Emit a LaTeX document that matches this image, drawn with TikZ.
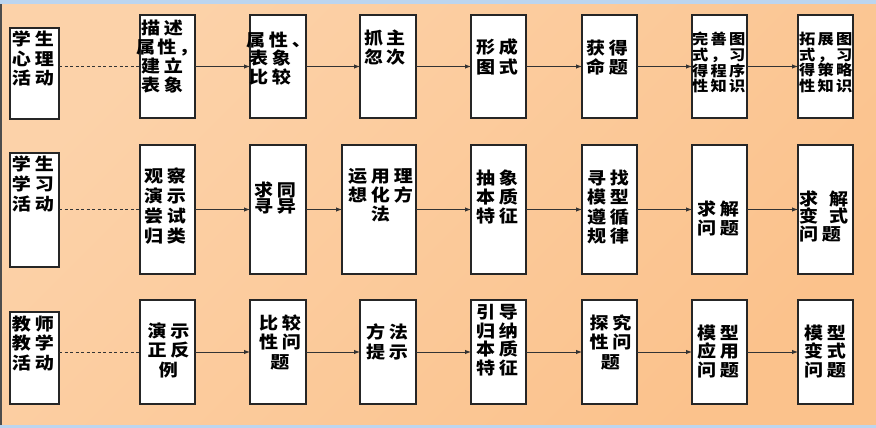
\documentclass[tikz,border=0pt]{standalone}
\usepackage{fontspec}
\newfontfamily\cjk{Noto Sans CJK SC}[FakeStretch=1.12,LetterSpace=23]
\newfontfamily\cjks{Noto Sans CJK SC}[FakeStretch=1.12,LetterSpace=16]
\usetikzlibrary{arrows.meta}
\definecolor{bgA}{HTML}{FCD2A9}
\definecolor{bgM}{HTML}{FDE9DA}
\definecolor{bgB}{HTML}{FBC28C}
\definecolor{frameblue}{HTML}{BCD5EF}
\newcommand\mkbox[5]{\node[box,minimum width={#4-#2},minimum height={#5-#3}] (#1) at ({(#2+#4)/2},{(#3+#5)/2}) {};}
\newcommand\mkbig[5][]{\node[txtb,#1] (#2) at (#3,{#4-7.5}) {#5};}
\newcommand\mksmall[5][]{\node[txts,#1] (#2) at (#3,{#4-6.8}) {#5};}
\begin{document}
\begin{tikzpicture}[x=1pt,y=-1pt,
  box/.style={draw=black!85,line width=1.2pt,fill=white,inner sep=0pt,outer sep=0pt},
  txtb/.style={inner sep=0pt,outer sep=0pt,align=left,anchor=north west,
    font=\cjk\bfseries\fontsize{17}{19.5}\selectfont,
    execute at begin node={\rule{0pt}{16pt}}},
  txts/.style={inner sep=0pt,outer sep=0pt,align=left,anchor=north west,
    font=\cjks\bfseries\fontsize{14.5}{15.7}\selectfont,
    execute at begin node={\rule{0pt}{13.8pt}}},
  lsk/.style={font=\cjk\bfseries\fontsize{17}{#1}\selectfont},
  ctr/.style={align=center,anchor=north},
  conn/.style={draw=black!80,line width=1pt,-{Latex[length=6pt,width=4.5pt]}},
  dconn/.style={draw=black!80,line width=0.9pt,dash pattern=on 3pt off 2.5pt}
]
\useasboundingbox (0,0) rectangle (876,428);
\shade[left color=bgA,middle color=bgM,right color=bgB,shading angle=45] (0,0) rectangle (876,428);
\fill[frameblue] (0,0) rectangle (876,4);
\fill[frameblue] (0,425) rectangle (876,428);
\fill[black!70] (0,4) rectangle (1.5,425);

% row 1
\mkbox{a1}{10}{28}{59}{119}
\mkbox{b1}{140}{15}{195}{118}
\mkbox{c1}{250}{15}{306}{118}
\mkbox{d1}{360}{15}{416}{118}
\mkbox{e1}{471}{15}{526}{118}
\mkbox{f1}{582}{15}{637}{118}
\mkbox{g1}{692}{15}{747}{118}
\mkbox{h1}{798}{15}{853}{118}
% row 2
\mkbox{a2}{10}{153}{59}{267}
\mkbox{b2}{140}{145}{195}{274}
\mkbox{c2}{250}{145}{306}{274}
\mkbox{d2}{342}{145}{416}{274}
\mkbox{e2}{471}{145}{526}{274}
\mkbox{f2}{582}{145}{637}{274}
\mkbox{g2}{692}{145}{747}{274}
\mkbox{h2}{798}{145}{853}{274}
% row 3
\mkbox{a3}{10}{312}{59}{404}
\mkbox{b3}{140}{300}{195}{404}
\mkbox{c3}{250}{300}{306}{404}
\mkbox{d3}{360}{300}{416}{404}
\mkbox{e3}{471}{300}{526}{404}
\mkbox{f3}{582}{300}{637}{404}
\mkbox{g3}{692}{300}{747}{404}
\mkbox{h3}{798}{300}{853}{404}

% texts row 1
\mkbig{ta1}{12}{38.5}{学生\\心理\\活动}
\mkbig[lsk=19.3]{tb1}{141}{27}{描述\\\hspace*{-5pt}{\addfontfeature{LetterSpace=14}属性，}\\建立\\表象}
\mkbig[lsk=18.5]{tc1}{249}{39}{\hspace*{-3pt}属性、\\表象\\比较}
\mkbig[lsk=19]{td1}{364}{37}{抓\hspace{3pt}主\\忽\hspace{3pt}次}
\mkbig[lsk=20]{te1}{476}{46}{形成\\图式}
\mkbig{tf1}{586}{47}{获得\\命题}
\mksmall{tg1}{692}{39}{完善图\\式，习\\得程序\\性知识}
\mksmall{th1}{799}{39}{拓展图\\式，习\\得策略\\性知识}
% texts row 2
\mkbig[lsk=20]{ta2}{12}{163.5}{学生\\学习\\活动}
\mkbig[lsk=20]{tb2}{144}{175}{观察\\演示\\尝试\\归类}
\mkbig[lsk=16.5]{tc2}{254}{189}{求同\\寻异}
\mkbig[lsk=19,ctr]{td2}{380.5}{176}{运用理\\想化方\\法}
\mkbig[lsk=19]{te2}{476}{177}{抽象\\本质\\特征}
\mkbig{tf2}{587}{177}{寻找\\模型\\遵循\\规律}
\mkbig[lsk=19]{tg2}{697}{208}{求解\\问题}
\mkbig[lsk=17.5]{th2}{799}{198}{求\hspace{11pt}解\\变\hspace{11pt}式\\问题}
% texts row 3
\mkbig{ta3}{12}{323}{教师\\教学\\活动}
\mkbig[ctr]{tb3}{168.5}{330}{演示\\正反\\例}
\mkbig[ctr]{tc3}{280}{322}{比较\\性问\\题}
\mkbig[lsk=20]{td3}{366}{331}{方法\\提示}
\mkbig[lsk=18.5]{te3}{476}{312}{引导\\归纳\\本质\\特征}
\mkbig[ctr]{tf3}{610.5}{322}{探究\\性问\\题}
\mkbig[lsk=18.5]{tg3}{697}{332}{模型\\应用\\问题}
\mkbig[lsk=18.5]{th3}{804}{332}{模型\\变式\\问题}

% connectors
\draw[dconn] (a1.east |- b1.west) -- (b1.west);
\draw[dconn] (a2.east |- b2.west) -- (b2.west);
\draw[dconn] (a3.east |- b3.west) -- (b3.west);
\draw[conn] (b1) -- (c1); \draw[conn] (c1) -- (d1); \draw[conn] (d1) -- (e1);
\draw[conn] (e1) -- (f1); \draw[conn] (f1) -- (g1); \draw[conn] (g1) -- (h1);
\draw[conn] (b2) -- (c2); \draw[conn] (c2) -- (d2); \draw[conn] (d2) -- (e2);
\draw[conn] (e2) -- (f2); \draw[conn] (f2) -- (g2); \draw[conn] (g2) -- (h2);
\draw[conn] (b3) -- (c3); \draw[conn] (c3) -- (d3); \draw[conn] (d3) -- (e3);
\draw[conn] (e3) -- (f3); \draw[conn] (f3) -- (g3); \draw[conn] (g3) -- (h3);
\end{tikzpicture}
\end{document}
